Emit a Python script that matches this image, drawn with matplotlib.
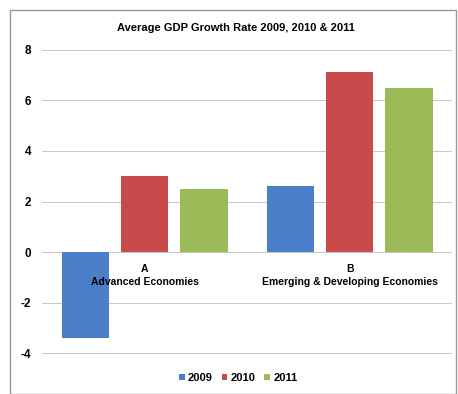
import matplotlib.pyplot as plt
import numpy as np
from matplotlib.patches import Rectangle

plt.rcParams['font.family'] = ['Liberation Sans', 'DejaVu Sans']

groups = ["A\nAdvanced Economies", "B\nEmerging & Developing Economies"]
years = ["2009", "2010", "2011"]
v2009 = [-3.4, 2.6]
v2010 = [3.0, 7.1]
v2011 = [2.5, 6.5]
colors = ["#4a7ec8", "#c84a4a", "#9bbb59"]

fig = plt.figure(figsize=(4.58, 3.94), dpi=100)
ax = fig.add_axes([0.092, 0.100, 0.895, 0.777])

x = np.arange(len(groups))
w = 0.23
step = 0.29
for i, (vals, c, lab) in enumerate(zip([v2009, v2010, v2011], colors, years)):
    ax.bar(x + (i - 1) * step, vals, width=w, color=c, label=lab, zorder=3)

ax.set_xlim(-0.5, 1.5)
ax.set_ylim(-4.05, 8.05)
ax.set_yticks(range(-4, 9, 2))
ax.set_yticklabels([str(t) for t in range(-4, 9, 2)], fontsize=8.5, fontweight="bold")
ax.set_xticks([])
ax.grid(axis="y", color="#c8c8c8", linewidth=0.7, zorder=0)
for s in ax.spines.values():
    s.set_visible(False)
ax.tick_params(axis="y", length=0, pad=8)

for xi, g in zip(x, groups):
    ax.text(xi, -0.45, g, ha="center", va="top", fontsize=7.5, fontweight="bold",
            linespacing=1.45, zorder=4)

fig.text(0.515, 0.93, "Average GDP Growth Rate 2009, 2010 & 2011",
         ha="center", va="center", fontsize=8, fontweight="bold")

fig.legend(loc="center", bbox_to_anchor=(0.52, 0.04), ncol=3, frameon=False,
           handlelength=0.5, handleheight=0.5, handletextpad=0.3,
           columnspacing=0.8, prop={"weight": "bold", "size": 8})

fig.patches.append(Rectangle((10 / 458, 0.0), 446 / 458, 1 - 10 / 394,
                             transform=fig.transFigure, fill=False,
                             edgecolor="#999999", linewidth=1))

fig.savefig("out.png", dpi=100)
